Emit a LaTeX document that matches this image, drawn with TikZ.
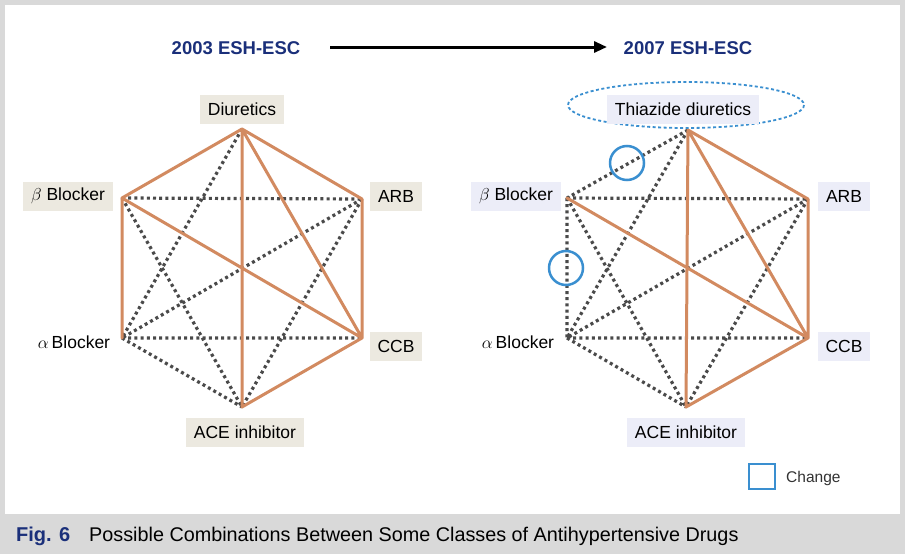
\documentclass[tikz,border=0pt]{standalone}
\usepackage{fontspec}
\setmainfont{Liberation Sans}
\usepackage{tikz}
\usetikzlibrary{calc,positioning,arrows.meta,shapes}
\definecolor{bgGray}{HTML}{D9D9D9}
\definecolor{oldBox}{HTML}{ECE9E0}
\definecolor{newBox}{HTML}{ECEDF8}
\definecolor{edgeOrange}{HTML}{D28A60}
\definecolor{dotGray}{HTML}{4A4A4A}
\definecolor{titleNavy}{HTML}{1A2F7A}
\definecolor{markBlue}{HTML}{3A8FD0}
\tikzset{
  orangeline/.style={draw=edgeOrange,line width=3pt,line cap=round},
  dotline/.style={draw=dotGray,line width=3.2pt,dash pattern=on 3pt off 3.2pt},
  drugold/.style={fill=oldBox,inner xsep=8pt,minimum height=29pt,font=\fontsize{17.5}{20}\selectfont},
  drugnew/.style={fill=newBox,inner xsep=8pt,minimum height=29pt,font=\fontsize{17.5}{20}\selectfont},
  drugplain/.style={inner sep=0pt,font=\fontsize{17.5}{20}\selectfont},
  markcircle/.style={draw=markBlue,line width=2.5pt}
}
\begin{document}
\begin{tikzpicture}[x=1pt,y=-1pt]
  \useasboundingbox (0,0) rectangle (905,554);
  \fill[bgGray] (0,0) rectangle (905,554);
  \fill[white] (5,5) rectangle (900,514);
  % titles
  \node[font=\fontsize{18.5}{21}\selectfont\bfseries,text=titleNavy] (t03) at (236,48) {2003 ESH-ESC};
  \node[font=\fontsize{18.5}{21}\selectfont\bfseries,text=titleNavy] (t07) at (688,48) {2007 ESH-ESC};
  \draw[line width=3pt,-{Triangle[length=13pt,width=11pt]}] (330,47) coordinate (ar0) -- (607,47) coordinate (ar1);
  % 2003 hexagon
  \coordinate (dA) at (242,129);
  \coordinate (bA) at (122,198);
  \coordinate (rA) at (362,199);
  \coordinate (aA) at (122,338);
  \coordinate (cA) at (362,338);
  \coordinate (eA) at (242,407);
  \draw[dotline] (bA) -- (rA) (dA) -- (aA) (bA) -- (eA) (rA) -- (aA) (rA) -- (eA) (aA) -- (cA) (aA) -- (eA);
  \draw[orangeline] (dA) -- (bA) (dA) -- (rA) (dA) -- (eA) (dA) -- (cA) (bA) -- (aA) (bA) -- (cA) (rA) -- (cA) (cA) -- (eA);
  \node[drugold] (diurA) at (242,109) {Diuretics};
  \node[drugold] (betaA) at (68,196) {$\beta$ Blocker};
  \node[drugold] (arbA) at (396,196) {ARB};
  \node[drugplain] (alphaA) at (74,342) {$\alpha$\,Blocker};
  \node[drugold] (ccbA) at (396,346) {CCB};
  \node[drugold] (aceA) at (245,432) {ACE inhibitor};
  % 2007 hexagon
  \coordinate (dB) at (688,130);
  \coordinate (bB) at (567,198);
  \coordinate (rB) at (808,199);
  \coordinate (aB) at (567,338);
  \coordinate (cB) at (808,338);
  \coordinate (eB) at (686,407);
  \draw[dotline] (dB) -- (bB) (bB) -- (aB) (bB) -- (rB) (dB) -- (aB) (bB) -- (eB) (rB) -- (aB) (rB) -- (eB) (aB) -- (cB) (aB) -- (eB);
  \draw[orangeline] (dB) -- (rB) (dB) -- (eB) (dB) -- (cB) (bB) -- (cB) (rB) -- (cB) (cB) -- (eB);
  \draw[markBlue,line width=1.8pt,dash pattern=on 3pt off 2.5pt] (686,105) ellipse (118 and 23);
  \node[drugnew] (thiaB) at (683,109) {Thiazide diuretics};
  \node[drugnew] (betaB) at (516,196) {$\beta$ Blocker};
  \node[drugnew] (arbB) at (844,196) {ARB};
  \node[drugplain] (alphaB) at (518,342) {$\alpha$\,Blocker};
  \node[drugnew] (ccbB) at (844,346) {CCB};
  \node[drugnew] (aceB) at (686,432) {ACE inhibitor};
  \draw[markcircle] (627,163) circle (17);
  \draw[markcircle] (566,268) circle (17);
  % legend
  \draw[markcircle] (749,464) rectangle (775,489);
  \node[anchor=west,inner sep=0pt,font=\fontsize{15.5}{18}\selectfont,text=black!80] (chg) at (786,478) {Change};
  % caption
  \node[anchor=base west,inner sep=0pt,font=\fontsize{20}{24}\selectfont\bfseries,text=titleNavy] (fig) at (16,541) {Fig. 6};
  \node[anchor=base west,inner sep=0pt,font=\fontsize{19.8}{24}\selectfont] (cap) at (89,541) {Possible Combinations Between Some Classes of Antihypertensive Drugs};
\end{tikzpicture}
\end{document}
